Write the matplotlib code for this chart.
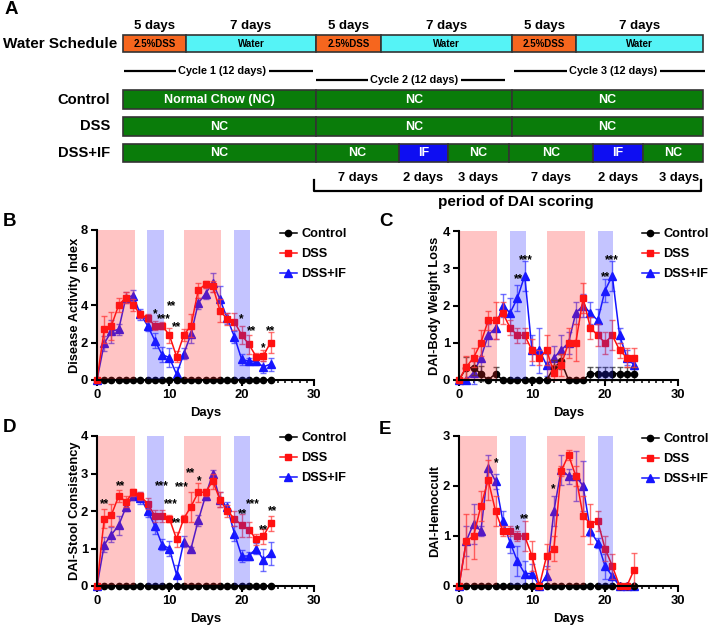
import matplotlib
matplotlib.use("Agg")
import matplotlib.pyplot as plt
from matplotlib.patches import Rectangle
from matplotlib.ticker import MultipleLocator
from matplotlib.lines import Line2D

plt.rcParams['font.family'] = ['Liberation Sans', 'DejaVu Sans']
plt.rcParams['font.weight'] = 'bold'
plt.rcParams['axes.labelweight'] = 'bold'

# ---------------- data ----------------
days = list(range(25))

# Panel A schematic
water_labels = ["2.5%DSS", "Water", "2.5%DSS", "Water", "2.5%DSS", "Water"]
water_days = ["5 days", "7 days", "5 days", "7 days", "5 days", "7 days"]
cycle_labels = ["Cycle 1 (12 days)", "Cycle 2 (12 days)", "Cycle 3 (12 days)"]
control_labels = ["Normal Chow (NC)", "NC", "NC"]
dss_labels = ["NC", "NC", "NC"]
dssif_labels = ["NC", "NC", "IF", "NC", "NC", "IF", "NC"]
scoring_days = ["7 days", "2 days", "3 days", "7 days", "2 days", "3 days"]
row_names = ["Control", "DSS", "DSS+IF"]
series_names = ["Control", "DSS", "DSS+IF"]

# Panel B: Disease Activity Index
b_ctrl = [0] * 25
b_dss = [0, 2.7, 2.9, 4.0, 4.4, 4.0, 3.5, 3.3, 2.9, 2.9, 2.4, 1.25, 2.4, 2.9, 4.8, 5.1, 5.0, 3.7, 3.25, 3.1, 2.4, 1.9, 1.25, 1.3, 2.0]
b_dss_err = [0, 0.7, 0.75, 0.35, 0.3, 0.3, 0.2, 0.2, 0.25, 0.2, 0.4, 0.3, 0.3, 0.6, 0.4, 0.2, 0.3, 0.6, 0.3, 0.45, 0.5, 0.5, 0.2, 0.3, 0.55]
b_if = [0, 1.95, 2.6, 2.7, 4.4, 4.5, 3.5, 2.9, 2.1, 1.35, 1.2, 0.3, 1.4, 2.45, 4.1, 4.6, 5.2, 4.3, 3.3, 2.3, 1.1, 1.0, 1.0, 0.7, 0.85]
b_if_err = [0, 0.4, 0.6, 0.3, 0.3, 0.3, 0.3, 0.3, 0.4, 0.4, 0.5, 0.4, 0.3, 0.5, 0.3, 0.3, 0.5, 0.7, 0.3, 0.3, 0.3, 0.2, 0.2, 0.3, 0.35]
b_stars = [(8.0, 3.7, "*"), (9.2, 3.43, "***"), (10.3, 4.12, "**"), (11.0, 2.99, "**"),
           (19.9, 3.41, "*"), (21.4, 2.76, "**"), (23.0, 1.87, "*"), (24.0, 2.76, "**")]

# Panel C: Body weight loss
c_ctrl = [0, 0.33, 0.33, 0.17, 0, 0.17, 0, 0, 0, 0, 0, 0, 0, 0.33, 0.5, 0, 0, 0, 0.17, 0.17, 0.17, 0.17, 0.17, 0.17, 0.17]
c_ctrl_err = [0, 0.3, 0.2, 0.2, 0, 0.17, 0, 0, 0, 0, 0, 0, 0, 0.2, 0.2, 0, 0, 0, 0.17, 0.17, 0.17, 0.17, 0.17, 0.17, 0.17]
c_dss = [0, 0.35, 0.6, 1.0, 1.6, 1.6, 1.8, 1.4, 1.2, 1.2, 0.8, 0.6, 0.8, 0.2, 0.4, 1.0, 1.0, 2.2, 1.4, 1.2, 1.0, 1.2, 0.8, 0.6, 0.6]
c_dss_err = [0, 0.3, 0.25, 0.35, 0.25, 0.5, 0.3, 0.2, 0.2, 0.2, 0.3, 0.2, 0.4, 0.2, 0.3, 0.4, 0.5, 0.4, 0.3, 0.3, 0.3, 0.4, 0.2, 0.25, 0.25]
c_if = [0, 0, 0.2, 0.6, 1.2, 1.4, 2.0, 1.8, 2.2, 2.8, 0.8, 0.8, 0.4, 0.6, 0.8, 1.0, 1.8, 2.0, 1.8, 1.6, 2.4, 2.8, 1.2, 0.6, 0.4]
c_if_err = [0, 0, 0.3, 0.4, 0.3, 0.3, 0.3, 0.4, 0.35, 0.4, 0.4, 0.6, 0.3, 0.3, 0.4, 0.3, 0.3, 0.3, 0.3, 0.3, 0.3, 0.4, 0.2, 0.2, 0.1]
c_stars = [(8.1, 2.79, "**"), (9.16, 3.32, "***"), (20.1, 2.86, "**"), (21.0, 3.32, "***")]

# Panel D: Stool consistency
d_ctrl = [0] * 25
d_dss = [0, 1.8, 1.9, 2.4, 2.25, 2.5, 2.4, 2.2, 1.87, 1.87, 1.8, 1.25, 1.8, 2.12, 2.5, 2.5, 2.8, 2.3, 2.0, 1.8, 1.62, 1.5, 1.25, 1.33, 1.67]
d_dss_err = [0, 0.25, 0.3, 0.15, 0.15, 0.1, 0.1, 0.15, 0.15, 0.15, 0.1, 0.2, 0.1, 0.4, 0.25, 0.1, 0.2, 0.2, 0.15, 0.2, 0.3, 0.2, 0.15, 0.2, 0.2]
d_if = [0, 1.1, 1.37, 1.62, 2.1, 2.4, 2.35, 2.0, 1.6, 1.1, 1.0, 0.3, 1.18, 1.0, 1.75, 2.4, 3.0, 2.3, 2.1, 1.4, 0.8, 0.8, 1.0, 0.7, 0.87]
d_if_err = [0, 0.2, 0.2, 0.25, 0.1, 0.1, 0.15, 0.15, 0.2, 0.15, 0.2, 0.25, 0.15, 0.05, 0.15, 0.1, 0.1, 0.2, 0.15, 0.2, 0.15, 0.1, 0.15, 0.3, 0.3]
d_stars = [(1.06, 2.28, "**"), (3.2, 2.75, "**"), (8.96, 2.75, "***"), (10.2, 2.28, "***"),
           (11.7, 2.73, "***"), (11.0, 1.77, "**"), (12.9, 3.1, "**"), (14.1, 2.89, "*"),
           (20.1, 2.0, "**"), (21.5, 2.28, "***"), (23.0, 1.59, "**"), (24.3, 2.09, "**")]

# Panel E: Hemoccult
e_ctrl = [0] * 25
e_dss = [0, 0.9, 1.0, 1.6, 2.12, 1.5, 1.1, 1.1, 1.0, 1.0, 0.6, 0, 0.6, 0.75, 2.3, 2.62, 2.2, 1.4, 1.25, 1.3, 0.75, 0.4, 0, 0, 0.33]
e_dss_err = [0, 0.55, 0.45, 0.3, 0.4, 0.3, 0.1, 0.1, 0.1, 0.3, 0.3, 0, 0.25, 0.25, 0.1, 0.1, 0.2, 0.4, 0.4, 0.2, 0.25, 0.25, 0, 0, 0.33]
e_if = [0, 0.9, 1.25, 1.1, 2.37, 2.1, 1.3, 0.87, 0.5, 0.25, 0.25, 0, 0.2, 1.5, 2.33, 2.2, 2.2, 2.0, 1.1, 0.87, 0.4, 0.2, 0, 0, 0]
e_if_err = [0, 0.3, 0.4, 0.1, 0.25, 0.15, 0.2, 0.2, 0.3, 0.25, 0.2, 0, 0.2, 0.3, 0.3, 0.15, 0.5, 0.5, 0.1, 0.1, 0.25, 0.2, 0, 0, 0]
e_stars = [(5.04, 2.53, "*"), (7.97, 1.19, "*"), (9.02, 1.41, "**"), (12.9, 2.0, "*")]

dss_spans = [(0, 5.2), (12, 17.2)]
if_spans = [(6.95, 9.2), (19, 21.15)]

# ---------------- figure ----------------
W, H = 709, 628
fig = plt.figure(figsize=(W / 100, H / 100), dpi=100)


def fx(x):
    return x / W


def fy(y):
    return 1 - y / H


# ---------------- Panel A ----------------
axA = fig.add_axes([0, 1 - 215 / H, 1, 215 / H])
axA.set_xlim(0, W)
axA.set_ylim(215, 0)
axA.axis('off')

ORANGE = '#F6661E'
CYAN = '#55F3F6'
GREEN = '#0A7C0A'
IFBLUE = '#0E0EF2'
EDGE = '#333333'

water_edges = [123, 186, 316, 381, 512, 576, 703]
row_edges = [123, 316, 512, 703]
if_edges = [123, 316, 399, 448, 509, 593, 643, 703]


def seg_row(edges, labels, colors, y0, y1, fs, tcolor):
    for i, lab in enumerate(labels):
        x0, x1 = edges[i], edges[i + 1]
        axA.add_patch(Rectangle((x0, y0), x1 - x0, y1 - y0, facecolor=colors[i],
                                edgecolor=EDGE, linewidth=1.2))
        axA.text((x0 + x1) / 2, (y0 + y1) / 2 + 0.5, lab, ha='center', va='center',
                 fontsize=fs, color=tcolor, fontweight='bold')


# water schedule
wcols = [ORANGE if l.startswith("2.5") else CYAN for l in water_labels]
seg_row(water_edges, water_labels, wcols, 35, 52, 7, 'black')
for i, t in enumerate(water_days):
    axA.text((water_edges[i] + water_edges[i + 1]) / 2, 26, t, ha='center', va='center',
             fontsize=9.5, fontweight='bold')
axA.text(117, 43.5, "Water Schedule", ha='right', va='center', fontsize=11, fontweight='bold')

# cycles
cyc_spans = [(124, 313, 71), (316, 505, 80), (514, 705, 71)]
for (x0, x1, y), lab in zip(cyc_spans, cycle_labels):
    axA.plot([x0, x1], [y, y], color='black', lw=1.6, solid_capstyle='butt')
    axA.text((x0 + x1) / 2 + 4, y, lab, ha='center', va='center', fontsize=7.8,
             fontweight='bold', bbox=dict(facecolor='white', edgecolor='none', pad=1.5))

# diet rows
seg_row(row_edges, control_labels, [GREEN] * 3, 90, 109, 9, 'white')
seg_row(row_edges, dss_labels, [GREEN] * 3, 117, 136, 9, 'white')
seg_row(if_edges, dssif_labels, [IFBLUE if l == "IF" else GREEN for l in dssif_labels],
        144, 162, 9, 'white')
for name, y in zip(row_names, [99.5, 126.5, 153]):
    axA.text(110, y, name, ha='right', va='center', fontsize=10.6, fontweight='bold')

for i, t in enumerate(scoring_days):
    cx = (if_edges[i + 1] + if_edges[i + 2]) / 2
    if i == len(scoring_days) - 1:
        cx += 6
    axA.text(cx, 178, t, ha='center', va='center', fontsize=9.3, fontweight='bold')
axA.plot([314, 314, 701, 701], [180, 191, 191, 180], color='black', lw=1.6)
axA.text(516, 202, "period of DAI scoring", ha='center', va='center', fontsize=11,
         fontweight='bold')

# ---------------- line panels ----------------
RED = '#FF1010'
BLUE = '#1515FF'


def panel(rect, ylabel, ymax, ystep, ctrl, ctrl_err, dss, dss_err, dif, dif_err, stars,
          leg_xy, ylabpad):
    l, t, r, b = rect
    ax = fig.add_axes([fx(l), fy(b), fx(r) - fx(l), fy(t) - fy(b)])
    ax.set_xlim(0, 30)
    ax.set_ylim(0, ymax)
    ms_kw = dict(clip_on=False, lw=1.1)
    ax.errorbar(days, dif, yerr=dif_err, color=BLUE, marker='^', ms=5.4,
                ecolor=(0.25, 0.25, 1, 0.75), elinewidth=1.0, capsize=2.5,
                capthick=1.0, zorder=3, **ms_kw)
    ax.errorbar(days, ctrl, yerr=ctrl_err if ctrl_err else None, color='black',
                marker='o', ms=4.5, ecolor=(0.2, 0.2, 0.2, 0.8), elinewidth=1.0,
                capsize=2.5, capthick=1.0, zorder=4, **ms_kw)
    ax.errorbar(days, dss, yerr=dss_err, color=RED, marker='s', ms=4.8,
                ecolor=(1, 0.25, 0.25, 0.75), elinewidth=1.0, capsize=2.5,
                capthick=1.0, zorder=5, **ms_kw)
    for a, bb in dss_spans:
        ax.axvspan(a, bb, color=(1.0, 0.15, 0.15), alpha=0.27, lw=0, zorder=6)
    for a, bb in if_spans:
        ax.axvspan(a, bb, color=(0.15, 0.15, 1.0), alpha=0.27, lw=0, zorder=6)
    for x, y, s in stars:
        ax.annotate(s, (x, y), xytext=(0, -4.6), textcoords='offset points',
                    ha='center', va='baseline', fontsize=8.5, fontweight='bold',
                    color='black', zorder=8)
    ax.xaxis.set_major_locator(MultipleLocator(10))
    ax.xaxis.set_minor_locator(MultipleLocator(1))
    ax.yaxis.set_major_locator(MultipleLocator(ystep))
    for s in ['top', 'right']:
        ax.spines[s].set_visible(False)
    for s in ['left', 'bottom']:
        ax.spines[s].set_linewidth(1.5)
        ax.spines[s].set_zorder(7)
    ax.tick_params(which='major', direction='out', length=4, width=1.5, labelsize=9.4,
                   pad=2.5)
    ax.tick_params(which='minor', direction='out', length=2.5, width=1.1)
    for lab in ax.get_xticklabels() + ax.get_yticklabels():
        lab.set_fontweight('bold')
    ax.set_xlabel("Days", fontsize=9.4, fontweight='bold', labelpad=4.5)
    ax.set_ylabel(ylabel, fontsize=9.3, fontweight='bold', labelpad=ylabpad)
    handles = [Line2D([], [], color='black', marker='o', ms=4.5, lw=1.1),
               Line2D([], [], color=RED, marker='s', ms=4.8, lw=1.1),
               Line2D([], [], color=BLUE, marker='^', ms=5.4, lw=1.1)]
    fig.legend(handles, series_names, loc='upper left',
               bbox_to_anchor=(fx(leg_xy[0]), fy(leg_xy[1])), frameon=False,
               borderpad=0, borderaxespad=0, handlelength=1.3, handletextpad=0.38,
               labelspacing=0.64, prop=dict(size=9.2, weight='bold'))
    return ax


panel((97, 230, 314, 380), "Disease Activity Index", 8, 2, b_ctrl, None, b_dss, b_dss_err,
      b_if, b_if_err, b_stars, (280, 228), 0)
panel((459, 231, 678, 380), "DAI-Body Weight Loss", 4, 1, c_ctrl, c_ctrl_err, c_dss,
      c_dss_err, c_if, c_if_err, c_stars, (642, 228), 1)
panel((97, 436, 314, 586), "DAI-Stool Consistency", 4, 1, d_ctrl, None, d_dss, d_dss_err,
      d_if, d_if_err, d_stars, (280, 432), 0)
panel((459, 436, 678, 586), "DAI-Hemoccult", 3, 1, e_ctrl, None, e_dss, e_dss_err,
      e_if, e_if_err, e_stars, (642, 433), 1)

# panel letters
for letter, (x, y) in zip("ABCDE", [(11, 10), (9, 222), (386, 222), (9, 428), (385, 429)]):
    fig.text(fx(x), fy(y), letter, ha='center', va='center', fontsize=13.5, fontweight='bold')

fig.savefig("out.png", dpi=100)
